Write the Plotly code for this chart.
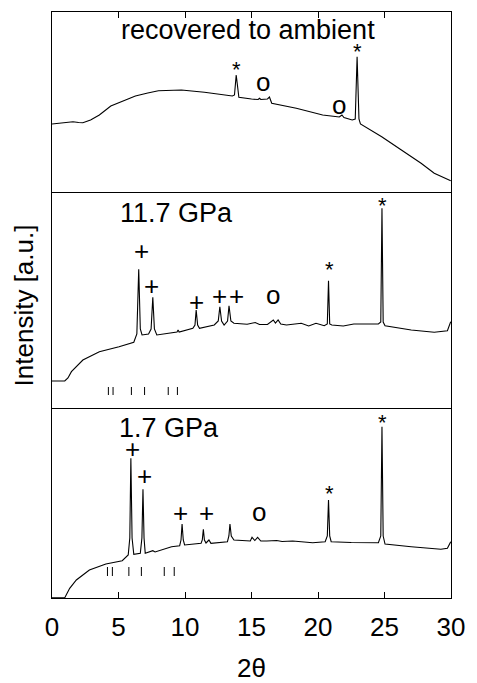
import plotly.graph_objects as go

# ---------------- data (2theta vs intensity, arbitrary units) ----------------
x_top = [0, 0.8, 1.58, 2.0, 2.32, 2.9, 3.56, 4.42, 5.3, 6.27, 7.2, 8.0, 9.73, 11.46, 13.56, 13.72, 13.85,
         13.98, 14.05, 15.0, 15.5, 15.6, 15.7, 16.2, 16.35, 16.52, 18.37, 20.35, 21.6, 21.8, 21.95, 22.57,
         22.8, 22.94, 23.08, 23.19, 24.79, 26.27, 27.75, 28.74, 29.98]
y_top = [68, 69, 70.3, 69.5, 69.3, 72, 77, 86, 91, 96, 99, 101.3, 102, 99.7, 96, 97, 117,
         97, 94.7, 93, 92.5, 93.7, 92.5, 93, 95, 88.7, 83.7, 77, 75, 77, 74.5, 72,
         73, 135.3, 73, 68, 55.3, 42, 28.7, 18.7, 11.3]

x_mid = [0, 0.96, 1.2, 1.46, 2.32, 3.56, 5.04, 6.15, 6.38, 6.52, 6.64, 6.77, 7.26, 7.45, 7.58, 7.7, 7.88,
         9.4, 9.48, 9.56, 10.59, 10.75, 10.84, 10.95, 11.09, 12.2, 12.5, 12.62, 12.75, 12.94, 13.2, 13.31,
         13.45, 13.68, 14.67, 15.28, 15.6, 16.2, 16.64, 16.8, 17.0, 17.2, 17.63, 18.74, 19.3, 19.85, 20.47,
         20.7, 20.79, 20.88, 21.04, 21.9, 22.69, 24.54, 24.72, 24.81, 24.9, 25.04, 27.01, 28.74, 29.73, 29.98]
y_mid = [28, 28, 31, 37.3, 49, 57.3, 62.3, 66.7, 75, 139.7, 80, 74, 75, 80, 111.7, 80, 74,
         77, 79, 77, 80.7, 84, 99, 84, 80.7, 84, 88, 102.3, 88, 84, 88, 103.3,
         88, 85.7, 84.7, 86.5, 84.5, 84.5, 89, 86, 89, 85, 84, 85.7, 83, 85.7, 83.3,
         85, 128.3, 85, 84, 83, 85, 85, 87, 200.7, 87, 83.3, 79, 76.7, 78.3, 87.3]

x_bot = [0, 0.96, 1.33, 1.83, 2.81, 4.05, 5.28, 5.73, 5.85, 5.93, 6.02, 6.15, 6.64, 6.76, 6.84, 6.92, 7.01,
         7.4, 7.58, 7.75, 8.99, 9.6, 9.7, 9.78, 9.87, 9.97, 11.21, 11.3, 11.38, 11.46, 11.58, 11.8, 11.95,
         13.19, 13.3, 13.38, 13.48, 13.68, 14.91, 15.04, 15.25, 15.46, 15.7, 16.15, 16.89, 17.3, 18.1, 19.6,
         20.54, 20.7, 20.79, 20.88, 20.99, 22.5, 24.54, 24.72, 24.81, 24.9, 25.04, 27.01, 29.24, 29.73, 29.98]
y_bot = [0.3, 0.3, 9.7, 18, 28, 34, 37.3, 43, 60, 139.7, 60, 43.7, 44.7, 60, 108.7, 60, 44.7,
         46, 47.3, 46, 51.3, 52.3, 58, 74, 58, 53, 54.7, 58, 68.7, 58, 55, 58, 54.7,
         56.3, 62, 74, 62, 58, 57, 60.7, 57.5, 60.7, 57, 57, 57.5, 56.5, 57, 55.3,
         56.3, 62, 98, 62, 56.3, 55.5, 55.3, 62, 171.3, 62, 54, 51.3, 48.7, 49.7, 56.3]

# reflection marker positions (2theta)
refl_mid = [4.24, 4.59, 5.97, 6.96, 8.74, 9.43]
refl_bot = [4.17, 4.54, 5.78, 6.72, 8.44, 9.19]

# peak labels: (symbol, 2theta, intensity)
lab_top = [("*", 13.85, 129), ("o", 15.85, 110), ("o", 21.58, 87), ("*", 22.94, 147)]
lab_mid = [("+", 6.72, 158), ("+", 7.46, 123), ("+", 10.89, 107), ("+", 12.57, 113), ("+", 13.85, 113),
           ("o", 16.6, 114), ("*", 20.84, 146), ("*", 24.87, 210)]
lab_bot = [("+", 6.07, 149), ("+", 6.94, 122), ("+", 9.68, 85), ("+", 11.58, 85),
           ("o", 15.53, 86), ("*", 20.84, 111), ("*", 24.87, 182)]

panel_titles = [("recovered to ambient", 14.75, 162, "y3"), ("11.7 GPa", 9.36, 196, "y2"), ("1.7 GPa", 8.8, 170, "y")]

x_ticks = [0, 5, 10, 15, 20, 25, 30]

# ---------------- figure ----------------
FONT = "Liberation Sans, Arial, Helvetica, sans-serif"
LINE = dict(color="black", width=1.1)

W, H = 477, 683
ML, MR, MT, MB = 52, 20, 12, 85
pw = W - ML - MR
ph = H - MT - MB

def dom(top_px, bot_px):
    return [(H - MB - bot_px) / ph, (H - MB - top_px) / ph]

fig = go.Figure()
fig.add_trace(go.Scatter(x=x_bot, y=y_bot, mode="lines", line=LINE, xaxis="x", yaxis="y"))
fig.add_trace(go.Scatter(x=x_mid, y=y_mid, mode="lines", line=LINE, xaxis="x2", yaxis="y2"))
fig.add_trace(go.Scatter(x=x_top, y=y_top, mode="lines", line=LINE, xaxis="x3", yaxis="y3"))

def bars(pos, y0, y1):
    xs, ys = [], []
    for p in pos:
        xs += [p, p, None]
        ys += [y0, y1, None]
    return xs, ys

bx, by = bars(refl_mid, 14, 22)
fig.add_trace(go.Scatter(x=bx, y=by, mode="lines", line=dict(color="black", width=1), xaxis="x2", yaxis="y2"))
bx, by = bars(refl_bot, 22, 31)
fig.add_trace(go.Scatter(x=bx, y=by, mode="lines", line=dict(color="black", width=1), xaxis="x", yaxis="y"))

annotations = []
for labs, yref in ((lab_top, "y3"), (lab_mid, "y2"), (lab_bot, "y")):
    for sym, xv, yv in labs:
        size = 22 if sym == "*" else 26
        annotations.append(dict(text=sym, x=xv, y=yv, xref="x", yref=yref, showarrow=False,
                                yshift=-6 if sym == "*" else 0,
                                font=dict(size=size, color="black", family=FONT)))
for txt, xv, yv, yref in panel_titles:
    annotations.append(dict(text=txt, x=xv, y=yv, xref="x", yref=yref, showarrow=False,
                            font=dict(size=27, color="black", family=FONT)))
annotations.append(dict(text="Intensity [a.u.]", x=(24 - ML) / pw, y=(H - MB - 305) / ph,
                        xref="paper", yref="paper", xanchor="center", yanchor="middle",
                        showarrow=False, textangle=-90, font=dict(size=26, color="black", family=FONT)))
annotations.append(dict(text="2θ", x=(255 - ML) / pw, y=(H - MB - 668) / ph,
                        xref="paper", yref="paper", xanchor="center", yanchor="middle",
                        showarrow=False, font=dict(size=26, color="black", family=FONT)))

common_x = dict(range=[0, 30], showgrid=False, zeroline=False, showline=True, mirror=True,
                linecolor="black", linewidth=1.3, tickvals=x_ticks)
common_y = dict(showgrid=False, zeroline=False, showline=True, mirror=True, linecolor="black",
                linewidth=1.3, showticklabels=False, ticks="")

fig.update_layout(
    width=W, height=H, margin=dict(l=ML, r=MR, t=MT, b=MB),
    plot_bgcolor="white", paper_bgcolor="white", showlegend=False,
    font=dict(family=FONT, color="black"),
    xaxis=dict(common_x, anchor="y", ticks="inside", ticklen=6, tickwidth=1.2, tickcolor="black",
               ticklabelstandoff=6, tickfont=dict(size=26, color="black", family=FONT)),
    xaxis2=dict(common_x, anchor="y2", matches="x", ticks="", showticklabels=False, showline=False),
    xaxis3=dict(common_x, anchor="y3", matches="x", side="top", ticks="inside", ticklen=6, tickwidth=1.2,
                tickcolor="black", showticklabels=False),
    yaxis=dict(common_y, domain=dom(409, 598), range=[0, 189]),
    yaxis2=dict(common_y, domain=dom(192, 409), range=[0, 217]),
    yaxis3=dict(common_y, domain=dom(12, 192), range=[0, 180]),
    annotations=annotations,
)

fig.write_html("out.html")
